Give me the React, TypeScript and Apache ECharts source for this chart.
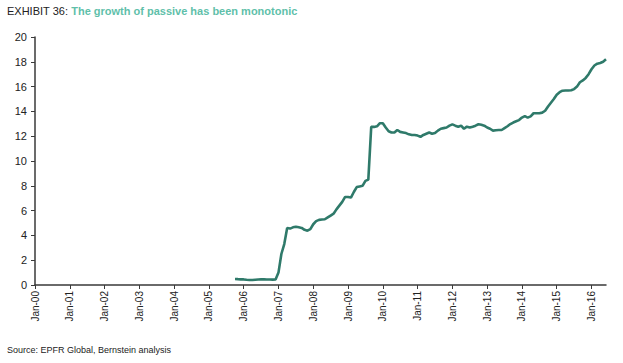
import React, { useEffect, useRef } from "react";
import * as echarts from "echarts";

const startYear = 2000;
const endYear = 2016;
const endMonth = 6; // Jun-16

const firstDataIndex = 69; // Oct-05

const passiveShare = [
  0.48, 0.47, 0.45,
  0.45, 0.42, 0.4, 0.4, 0.42, 0.44, 0.45, 0.45, 0.44, 0.44, 0.43, 0.45,
  1.0, 2.5, 3.3, 4.6, 4.55, 4.65, 4.7, 4.65, 4.6, 4.45, 4.38, 4.5,
  4.9, 5.15, 5.25, 5.28, 5.3, 5.45, 5.6, 5.75, 6.1, 6.4, 6.7, 7.1,
  7.1, 7.05, 7.5, 7.9, 7.95, 8.0, 8.4, 8.5, 12.75, 12.75, 12.8, 13.05,
  13.05, 12.7, 12.4, 12.3, 12.3, 12.5, 12.35, 12.3, 12.25, 12.15, 12.1, 12.1,
  12.05, 11.95, 12.1, 12.2, 12.3, 12.2, 12.25, 12.45, 12.6, 12.65, 12.7, 12.85,
  12.95, 12.85, 12.77, 12.85, 12.6, 12.77, 12.7, 12.77, 12.85, 12.96, 12.92, 12.85,
  12.7, 12.6, 12.45, 12.48, 12.5, 12.5, 12.65, 12.8, 12.98, 13.1, 13.2, 13.3,
  13.5, 13.62, 13.5, 13.6, 13.85, 13.85, 13.85, 13.9, 14.05, 14.4, 14.7, 15.0,
  15.35, 15.55, 15.67, 15.68, 15.68, 15.7, 15.8, 16.0, 16.35, 16.5, 16.7, 17.0,
  17.4, 17.7, 17.85, 17.9, 18.0, 18.2,
];

const monthNames = ["Jan", "Feb", "Mar", "Apr", "May", "Jun", "Jul", "Aug", "Sep", "Oct", "Nov", "Dec"];

const categories: string[] = [];
for (let y = startYear; y <= endYear; y++) {
  for (let m = 0; m < 12; m++) {
    if (y === endYear && m >= endMonth) break;
    categories.push(monthNames[m] + "-" + String(y % 100).padStart(2, "0"));
  }
}

const seriesData: (number | null)[] = categories.map((_, i) =>
  i >= firstDataIndex && i - firstDataIndex < passiveShare.length ? passiveShare[i - firstDataIndex] : null
);

const yTicks = { min: 0, max: 20, interval: 2 };

export default function App() {
  const ref = useRef<HTMLDivElement>(null);
  useEffect(() => {
    document.body.style.margin = "0";
    const chart = echarts.init(ref.current!, null, { renderer: "svg" });
    chart.setOption({
      animation: false,
      backgroundColor: "#ffffff",
      grid: { left: 35, right: 17, top: 37, bottom: 78, containLabel: false },
      xAxis: {
        type: "category",
        data: categories,
        boundaryGap: false,
        axisLine: { lineStyle: { color: "#3a3a3a", width: 1.5 } },
        axisTick: { interval: 11, length: 4, lineStyle: { color: "#3a3a3a" } },
        axisLabel: {
          interval: 11,
          rotate: 90,
          color: "#222",
          fontFamily: "Liberation Sans, Arial, sans-serif",
          fontSize: 10,
          margin: 6,
        },
        splitLine: { show: false },
      },
      yAxis: {
        type: "value",
        min: yTicks.min,
        max: yTicks.max,
        interval: yTicks.interval,
        axisLine: { show: true, lineStyle: { color: "#3a3a3a", width: 1.5 } },
        axisTick: { show: true, length: 4, lineStyle: { color: "#3a3a3a" } },
        axisLabel: {
          color: "#222",
          fontFamily: "Liberation Sans, Arial, sans-serif",
          fontSize: 11,
          margin: 8,
        },
        splitLine: { show: false },
      },
      series: [
        {
          type: "line",
          data: seriesData,
          showSymbol: false,
          connectNulls: false,
          lineStyle: { color: "#2f7a6a", width: 2.6 },
        },
      ],
      graphic: [
        {
          type: "text",
          left: 7,
          top: 5,
          style: {
            text: "{a|EXHIBIT 36: }{b|The growth of passive has been monotonic}",
            rich: {
              a: { fontFamily: "Liberation Sans Narrow, Liberation Sans, Arial", fontSize: 11, fill: "#222" },
              b: { fontFamily: "Liberation Sans Narrow, Liberation Sans, Arial", fontSize: 11, fontWeight: "bold", fill: "#5fbfaa" },
            },
          },
        },
        {
          type: "text",
          left: 7,
          top: 345,
          style: {
            text: "Source: EPFR Global, Bernstein analysis",
            fontFamily: "Liberation Sans, Arial, sans-serif",
            fontSize: 9,
            fill: "#222",
          },
        },
      ],
    });
    return () => chart.dispose();
  }, []);
  return <div ref={ref} style={{ width: 623, height: 363 }} />;
}
